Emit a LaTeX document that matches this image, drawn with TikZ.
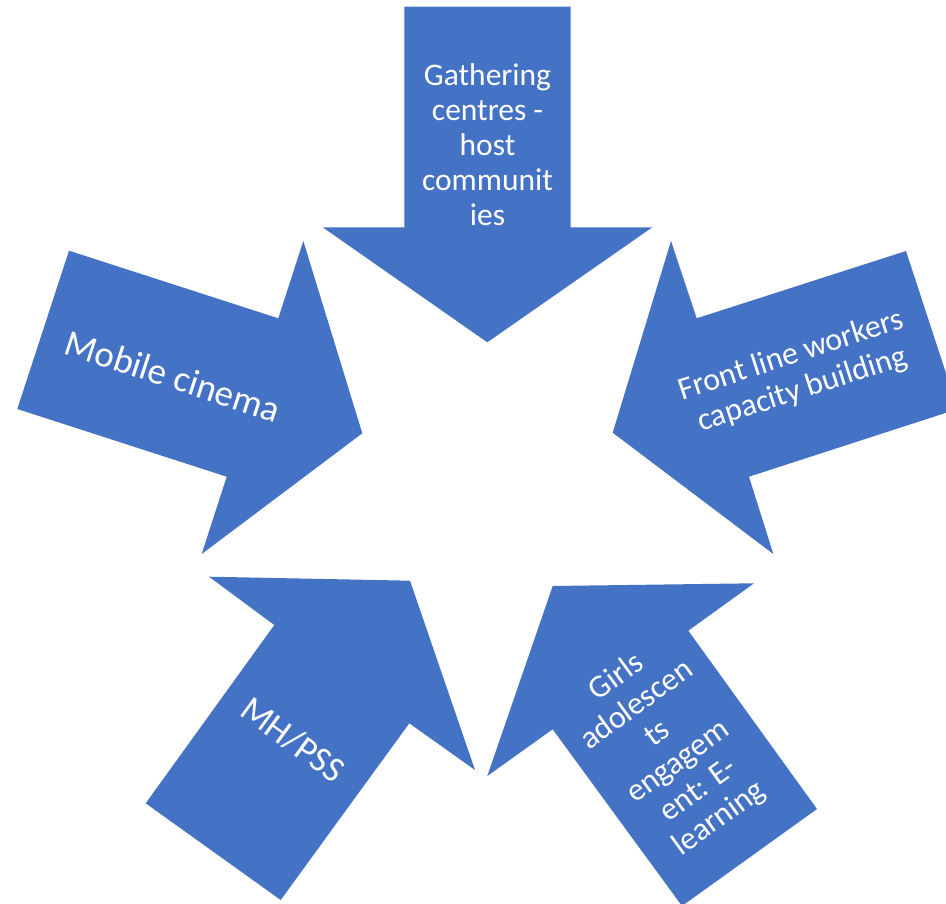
\documentclass[tikz,border=0pt]{standalone}
\usepackage{fontspec}
\setmainfont{Carlito}
\definecolor{arrowblue}{HTML}{4472C4}
\begin{document}
\begin{tikzpicture}[x=1pt,y=-1pt,
  arrowshape/.style={fill=arrowblue,draw=none},
  lbl/.style={text=white,align=center,inner sep=0pt,font=\fontsize{31.5}{35}\selectfont}]
\useasboundingbox (0,0) rectangle (946,904);
\clip (0,0) rectangle (946,904);
% top arrow
\fill[arrowshape] (404.3,6.7) -- (570.7,6.7) -- (570.7,227.3) -- (652.3,227.3) -- (487.3,342.3) -- (322.7,227.3) -- (404.3,227.3) -- cycle;
% left arrow
\fill[arrowshape] (69,250.7) -- (278.3,318.3) -- (303.3,241) -- (362.3,433.3) -- (201.7,554) -- (226.7,476.7) -- (17.3,409) -- cycle;
% right arrow
\fill[arrowshape] (906,251) -- (957.7,409) -- (749,476.7) -- (773.3,554) -- (612.7,432.7) -- (671,241) -- (696.7,318.3) -- cycle;
% bottom-left arrow
\fill[arrowshape] (209,576.7) -- (410,580.7) -- (475,770) -- (409.3,723.3) -- (280.7,900) -- (145.7,803.3) -- (274.3,625) -- cycle;
% bottom-right arrow
\fill[arrowshape] (552.7,586) -- (754,583.3) -- (688.3,630.7) -- (817,809) -- (682,906) -- (552.7,729.3) -- (487.3,776) -- cycle;
% labels
\node[lbl] (gather) at (487.5,145) {Gathering\\centres -\\host\\communit\\ies};
\node[lbl,rotate=-18,font=\fontsize{37}{44}\selectfont] (mobile) at (173,376) {Mobile cinema};
\node[lbl,rotate=18,font=\fontsize{32}{36}\selectfont] (front) at (797,373) {Front line workers\\capacity building};
\node[lbl,rotate=-36,font=\fontsize{36}{40}\selectfont] (mhpss) at (293,740) {MH/PSS};
\node[lbl,rotate=36,font=\fontsize{32}{35}\selectfont] (girls) at (668,748) {Girls\\adolescen\\ts\\engagem\\ent: E-\\learning};
\end{tikzpicture}
\end{document}
